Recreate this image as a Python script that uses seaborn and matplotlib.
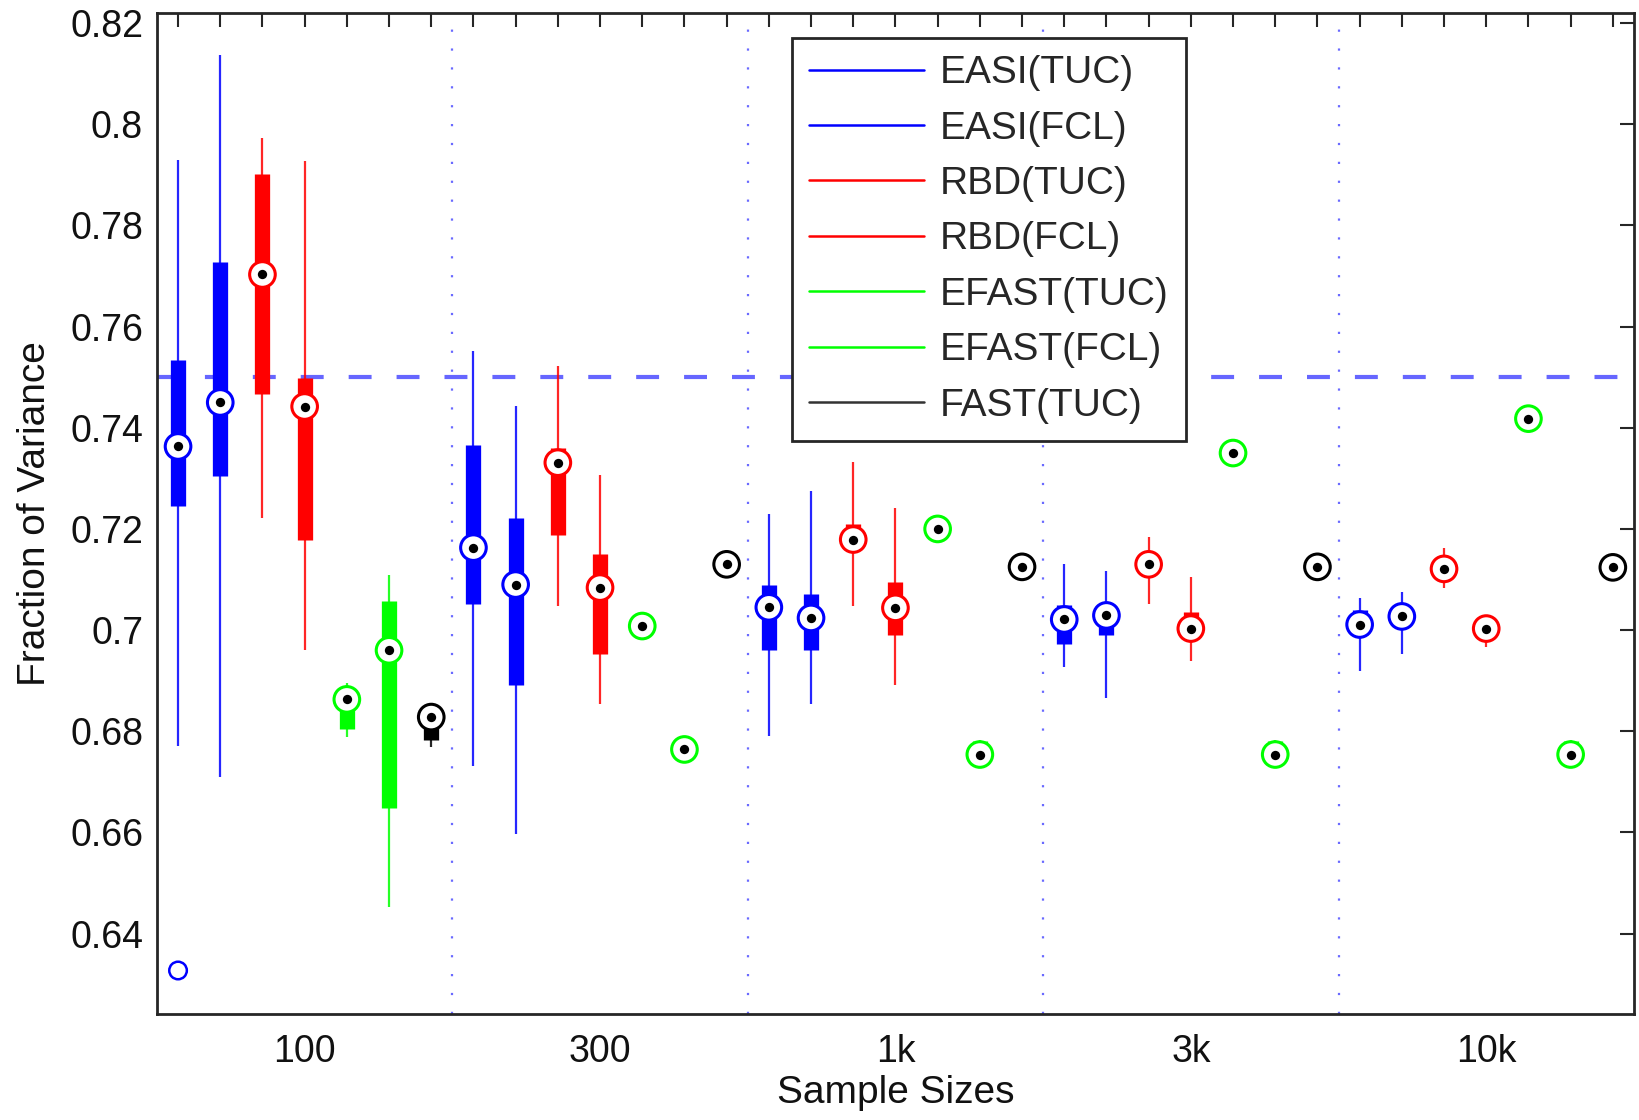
import numpy as np
import pandas as pd
import matplotlib
matplotlib.use("Agg")
import matplotlib.pyplot as plt
from matplotlib.lines import Line2D
from matplotlib.ticker import FuncFormatter
import seaborn as sns

# Methods and sample sizes
methods = ["EASI(TUC)", "EASI(FCL)", "RBD(TUC)", "RBD(FCL)", "EFAST(TUC)", "EFAST(FCL)", "FAST(TUC)"]
method_colors = ["#0000ff", "#0000ff", "#ff0000", "#ff0000", "#00ff00", "#00ff00", "#000000"]
sizes = ["100", "300", "1k", "3k", "10k"]

# Box statistics, one value per (sample size, method)
whisk_lo = [0.6771, 0.6709, 0.7222, 0.6961, 0.6788, 0.6452, 0.6769,
            0.6732, 0.6597, 0.7047, 0.6854, 0.7008, 0.6764, 0.7130,
            0.6790, 0.6853, 0.7047, 0.6892, 0.7200, 0.6754, 0.7125,
            0.6927, 0.6866, 0.7052, 0.6939, 0.7350, 0.6754, 0.7125,
            0.6920, 0.6953, 0.7084, 0.6966, 0.7418, 0.6754, 0.7124]
q1 = [0.7245, 0.7304, 0.7467, 0.7179, 0.6805, 0.6649, 0.6783,
      0.7052, 0.6892, 0.7187, 0.6953, 0.7008, 0.6764, 0.7130,
      0.6961, 0.6961, 0.7160, 0.6991, 0.7200, 0.6754, 0.7125,
      0.6973, 0.6991, 0.7115, 0.6990, 0.7350, 0.6754, 0.7125,
      0.6990, 0.7015, 0.7115, 0.6995, 0.7418, 0.6754, 0.7124]
median = [0.7363, 0.7450, 0.7703, 0.7442, 0.6863, 0.6960, 0.6828,
          0.7163, 0.7090, 0.7331, 0.7084, 0.7008, 0.6764, 0.7130,
          0.7045, 0.7024, 0.7179, 0.7044, 0.7200, 0.6754, 0.7125,
          0.7021, 0.7029, 0.7130, 0.7003, 0.7350, 0.6754, 0.7125,
          0.7011, 0.7027, 0.7121, 0.7003, 0.7418, 0.6754, 0.7124]
q3 = [0.7533, 0.7728, 0.7901, 0.7499, 0.6870, 0.7057, 0.6835,
      0.7365, 0.7222, 0.7359, 0.7150, 0.7008, 0.6764, 0.7130,
      0.7090, 0.7071, 0.7209, 0.7096, 0.7200, 0.6781, 0.7125,
      0.7049, 0.7040, 0.7140, 0.7036, 0.7350, 0.6781, 0.7125,
      0.7039, 0.7035, 0.7128, 0.7010, 0.7418, 0.6781, 0.7124]
whisk_hi = [0.7930, 0.8136, 0.7973, 0.7927, 0.6896, 0.7108, 0.6840,
            0.7552, 0.7444, 0.7523, 0.7306, 0.7008, 0.6764, 0.7130,
            0.7229, 0.7274, 0.7332, 0.7241, 0.7200, 0.6783, 0.7125,
            0.7131, 0.7117, 0.7184, 0.7105, 0.7350, 0.6783, 0.7125,
            0.7064, 0.7075, 0.7162, 0.7015, 0.7418, 0.6783, 0.7124]

# Outliers: (box index, value)
outlier_box = [1]
outlier_val = [0.6327]

true_value = 0.75

n_m = len(methods)
df = pd.DataFrame({
    "pos": np.arange(1, len(median) + 1),
    "method": [methods[i % n_m] for i in range(len(median))],
    "lo": whisk_lo, "q1": q1, "med": median, "q3": q3, "hi": whisk_hi,
})
df["color"] = [method_colors[i % n_m] for i in range(len(df))]

sns.set_theme(style="white")
plt.rcParams["font.family"] = ["Liberation Sans", "DejaVu Sans"]

fig = plt.figure(figsize=(16.4, 11.2), dpi=100)
ax = fig.add_axes([0.0957, 0.0942, 0.9006, 0.8942])

# reference line and group separators
ax.axhline(true_value, color="#6666ff", lw=3, dashes=(5.5, 6), zorder=1)
for k in range(1, len(sizes)):
    ax.axvline(k * n_m + 0.5, color="#6a6aff", lw=1.6, dashes=(1, 7.5), zorder=1)

# whiskers and compact boxes
ax.vlines(df["pos"], df["lo"], df["hi"], colors=df["color"], lw=1.6, alpha=0.85, zorder=2)
ax.vlines(df["pos"], df["q1"], df["q3"], colors=df["color"], lw=11, capstyle="butt", zorder=3)

# medians: white circle with coloured ring and black centre dot
sns.scatterplot(data=df, x="pos", y="med", hue="method", palette=dict(zip(methods, method_colors)),
                s=340, linewidth=2.2, marker="o", legend=False, ax=ax, zorder=4)
coll = ax.collections[-1]
coll.set_facecolor("white")
coll.set_edgecolor(df["color"].tolist())
sns.scatterplot(data=df, x="pos", y="med", color="black", s=45, linewidth=0, legend=False, ax=ax, zorder=5)

# outliers
out_df = pd.DataFrame({"pos": outlier_box, "val": outlier_val})
sns.scatterplot(data=out_df, x="pos", y="val", s=160, facecolor="none", edgecolor="#0000ff",
                linewidth=1.8, legend=False, ax=ax, zorder=4)

ax.set_xlim(0.5, len(median) + 0.5)
ax.set_ylim(0.624, 0.822)
ax.set_yticks(np.arange(0.64, 0.8201, 0.02))
ax.yaxis.set_major_formatter(FuncFormatter(lambda v, p: "%g" % round(v, 2)))
ax.set_xticks(df["pos"])
xlabels = [""] * len(df)
for k, s in enumerate(sizes):
    xlabels[k * n_m + n_m // 2] = s
ax.set_xticklabels(xlabels)
ax.tick_params(axis="both", which="both", direction="in", length=10, width=1.5,
               top=True, right=True, labelsize=27, color="#262626", labelcolor="#111111", pad=14)
ax.tick_params(axis="y", pad=10)
for sp in ax.spines.values():
    sp.set_linewidth(2)
    sp.set_color("#262626")

ax.set_xlabel("Sample Sizes", fontsize=28, labelpad=4, color="#111111")
ax.set_ylabel("Fraction of Variance", fontsize=28, labelpad=12, color="#111111")

handles = [Line2D([0], [0], color=c, lw=1.8) for c in method_colors]
handles[-1].set_color("#333333")
leg = ax.legend(handles, methods, loc="upper left", bbox_to_anchor=(0.4297, 0.9754),
                fontsize=28, handlelength=2.95, handletextpad=0.4, labelspacing=0.5,
                borderpad=0.45, borderaxespad=0, frameon=True, fancybox=False, framealpha=1)
leg.get_frame().set_edgecolor("#262626")
leg.get_frame().set_linewidth(2)

fig.savefig("out.png", dpi=100)
